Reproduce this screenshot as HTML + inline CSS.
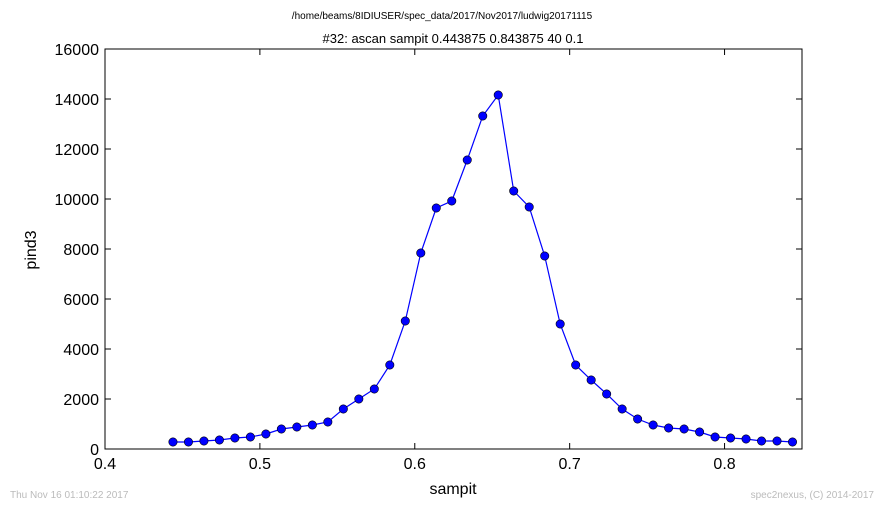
<!DOCTYPE html>
<html><head><meta charset="utf-8"><style>
body{margin:0;background:#fff;width:884px;height:509px;overflow:hidden;font-family:"Liberation Sans",sans-serif}
</style></head><body>
<svg id="c" width="884" height="509" xmlns="http://www.w3.org/2000/svg" font-family="Liberation Sans, sans-serif">
<text x="442" y="19" font-size="10" text-anchor="middle">/home/beams/8IDIUSER/spec_data/2017/Nov2017/ludwig20171115</text>
<text x="453" y="43" font-size="13" text-anchor="middle">#32: ascan  sampit 0.443875 0.843875  40 0.1</text>
<text x="453" y="494" font-size="16" text-anchor="middle">sampit</text>
<text x="36" y="250" font-size="16" text-anchor="middle" transform="rotate(-90 36 250)">pind3</text>
<text x="10" y="498" font-size="10" fill="#bbb">Thu Nov 16 01:10:22 2017</text>
<text x="874" y="498" font-size="10" fill="#bbb" text-anchor="end">spec2nexus, (C) 2014-2017</text>
<g id="ticks"></g>
<g id="series"></g>
<rect x="105" y="49" width="697" height="400" fill="none" stroke="#000" stroke-width="1"/>
</svg>
<script>
const xTicks=[0.4,0.5,0.6,0.7,0.8];
const yTicks=[0,2000,4000,6000,8000,10000,12000,14000,16000];
const xs=[];for(let i=0;i<41;i++)xs.push(0.443875+i*0.01);
const ys=[280,280,320,360,440,480,600,800,880,960,1080,1600,2000,2400,3360,5120,7840,9640,9920,11560,13320,14160,10320,9680,7720,5000,3360,2760,2200,1600,1200,960,840,800,680,480,440,400,320,320,280];
const X0=105,X1=802,Y0=449,Y1=49,xmin=0.4,xmax=0.85,ymin=0,ymax=16000;
const sx=v=>X0+(v-xmin)/(xmax-xmin)*(X1-X0);
const sy=v=>Y0-(v-ymin)/(ymax-ymin)*(Y0-Y1);
const NS="http://www.w3.org/2000/svg";
const tg=document.getElementById('ticks'),sg=document.getElementById('series');
function mk(t,a,p){const e=document.createElementNS(NS,t);for(const k in a)e.setAttribute(k,a[k]);p.appendChild(e);return e;}
xTicks.forEach(v=>{const x=sx(v);
 const l=mk('line',{x1:x,x2:x,y1:Y0,y2:Y0-6,stroke:'#000'},tg);
 
 
 const l2=mk('line',{x1:x,x2:x,y1:Y1,y2:Y1+6,stroke:'#000'},tg);
 
 
 const t=mk('text',{x:x,y:469,'font-size':16,'text-anchor':'middle'},tg);t.textContent=String(v);
 
 
});
yTicks.forEach(v=>{const y=sy(v);
 const l=mk('line',{x1:X0,x2:X0+6,y1:y,y2:y,stroke:'#000'},tg);
 
 
 const l2=mk('line',{x1:X1,x2:X1-6,y1:y,y2:y,stroke:'#000'},tg);
 
 
 const t=mk('text',{x:99,y:y+6,'font-size':16,'text-anchor':'end'},tg);t.textContent=String(v);
 
 
});
const pl=mk('polyline',{points:xs.map((x,i)=>sx(x)+','+sy(ys[i])).join(' '),fill:'none',stroke:'#0000ff','stroke-width':1.2},sg);


xs.forEach((x,i)=>{const c=mk('circle',{cx:sx(x),cy:sy(ys[i]),r:4.2,fill:'#0000ff',stroke:'#000','stroke-width':0.6},sg);
 
 
});
</script>
</body></html>
